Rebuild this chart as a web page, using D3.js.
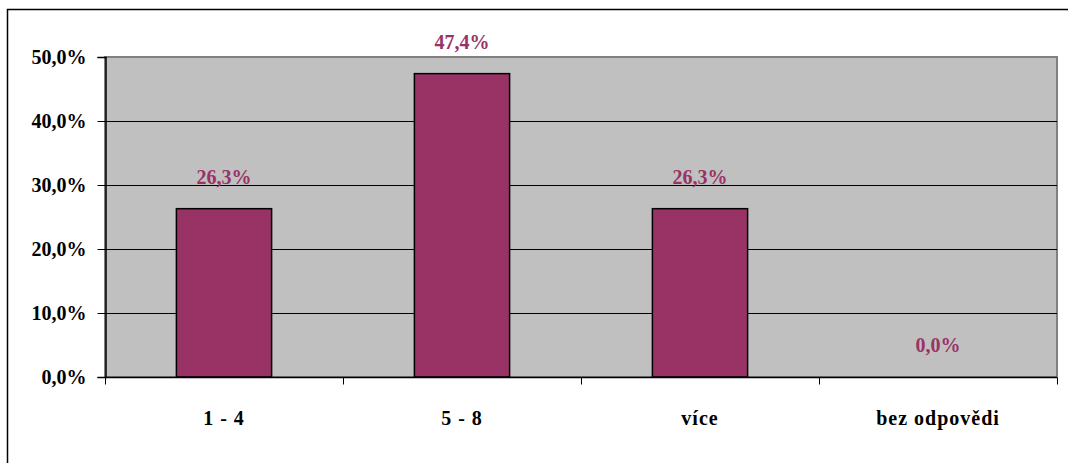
<!DOCTYPE html>
<html>
<head>
<meta charset="utf-8">
<script src="https://cdn.jsdelivr.net/npm/d3@7"></script>
<style>
  html, body { margin: 0; padding: 0; background: #ffffff; }
  svg { display: block; }
  text { font-family: "Liberation Serif", "Times New Roman", serif; font-weight: bold; }
</style>
</head>
<body>
<svg id="chart" width="1068" height="463"></svg>
<script>
// Response categories and their shares (percent)
const categories = ["1 - 4", "5 - 8", "více", "bez odpovědi"];
const shares = [26.3, 47.4, 26.3, 0.0];
const yTicks = [0, 10, 20, 30, 40, 50];

const W = 1068, H = 463;
const plot = { left: 105, top: 57, right: 1057, bottom: 377 };
const barColor = "#993366";

const svg = d3.select("#chart");

// Outer chart frame
svg.append("rect")
  .attr("x", 7.5).attr("y", 9.5)
  .attr("width", W + 10).attr("height", H + 10)
  .attr("fill", "#ffffff").attr("stroke", "#000000").attr("stroke-width", 1.5);

const x = d3.scaleBand().domain(categories).range([plot.left, plot.right]).padding(0);
const y = d3.scaleLinear().domain([0, 50]).range([plot.bottom, plot.top]);

const fmt = v => d3.format(".1f")(v).replace(".", ",") + "%";

// Plot area background
svg.append("rect")
  .attr("x", plot.left).attr("y", plot.top)
  .attr("width", plot.right - plot.left).attr("height", plot.bottom - plot.top)
  .attr("fill", "#c0c0c0").attr("stroke", "#808080").attr("stroke-width", 2);

// Horizontal gridlines
svg.append("g").selectAll("line")
  .data(yTicks.filter(t => t > 0 && t < 50))
  .join("line")
  .attr("x1", plot.left).attr("x2", plot.right)
  .attr("y1", d => Math.round(y(d)) + 0.5).attr("y2", d => Math.round(y(d)) + 0.5)
  .attr("stroke", "#000000").attr("stroke-width", 1);

// Bars
const barW = x.bandwidth() * 0.4;
svg.append("g").selectAll("rect")
  .data(categories.map((c, i) => ({ c, v: shares[i] })).filter(d => d.v > 0))
  .join("rect")
  .attr("x", d => x(d.c) + (x.bandwidth() - barW) / 2)
  .attr("y", d => y(d.v))
  .attr("width", barW)
  .attr("height", d => y(0) - y(d.v))
  .attr("fill", barColor).attr("stroke", "#000000").attr("stroke-width", 1.5);

// Value labels
svg.append("g").selectAll("text")
  .data(categories.map((c, i) => ({ c, v: shares[i] })))
  .join("text")
  .attr("x", d => x(d.c) + x.bandwidth() / 2)
  .attr("y", d => y(d.v) - 25)
  .attr("text-anchor", "middle")
  .attr("font-size", 20)
  .attr("fill", barColor)
  .text(d => fmt(d.v));

// Y axis
const yAxis = d3.axisLeft(y).tickValues(yTicks).tickSize(8).tickPadding(11).tickFormat(fmt);
const gy = svg.append("g").attr("transform", `translate(${plot.left + 0.5},0)`).call(yAxis);
gy.select(".domain").attr("stroke", "#000000").attr("stroke-width", 1.5);
gy.selectAll(".tick line").attr("stroke", "#000000");
gy.selectAll(".tick text")
  .attr("font-size", 20).attr("fill", "#000000")
  .style("font-family", "'Liberation Serif', serif").style("font-weight", "bold");

// X axis with ticks between categories
const gx = svg.append("g").attr("transform", `translate(0,${plot.bottom + 0.5})`);
gx.append("line")
  .attr("x1", plot.left).attr("x2", plot.right)
  .attr("stroke", "#000000").attr("stroke-width", 1.5);
const bounds = categories.map(c => x(c)).concat([plot.right]);
gx.selectAll("line.tk")
  .data(bounds)
  .join("line").attr("class", "tk")
  .attr("x1", d => Math.round(d) + 0.5).attr("x2", d => Math.round(d) + 0.5)
  .attr("y1", 0).attr("y2", 7)
  .attr("stroke", "#000000");
gx.selectAll("text")
  .data(categories)
  .join("text")
  .attr("x", d => x(d) + x.bandwidth() / 2)
  .attr("y", 47)
  .attr("text-anchor", "middle")
  .attr("font-size", 20)
  .attr("letter-spacing", 1)
  .attr("fill", "#000000")
  .text(d => d);
</script>
</body>
</html>
